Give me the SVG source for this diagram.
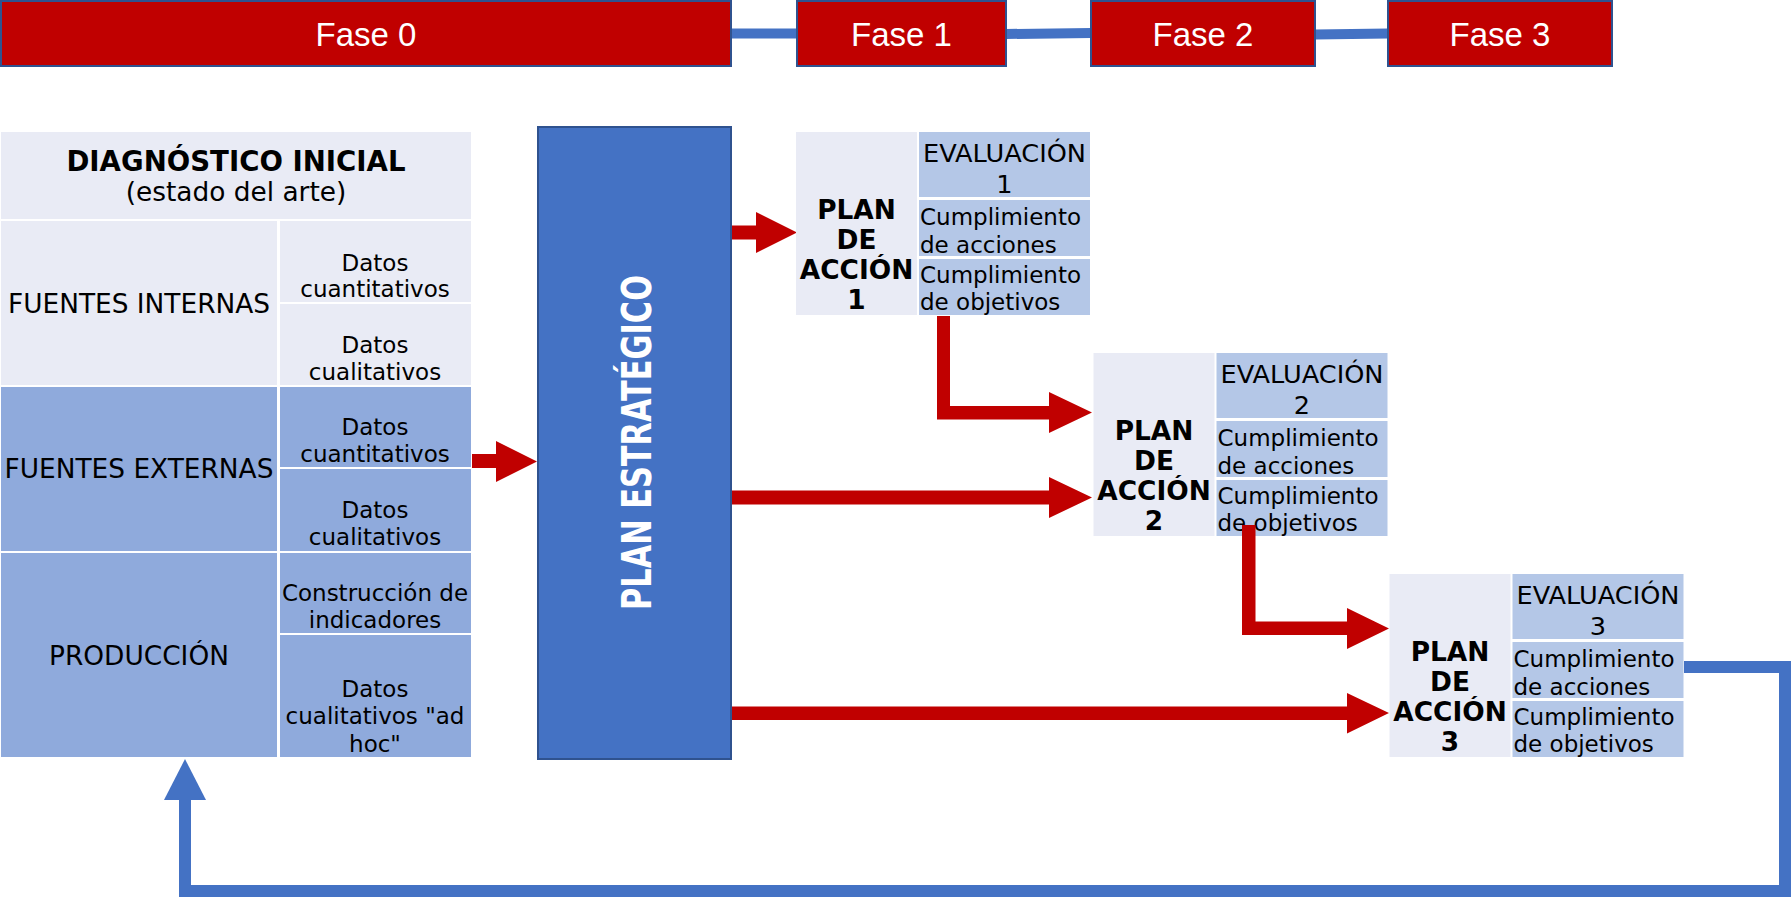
<svg xmlns="http://www.w3.org/2000/svg" width="1792" height="898" viewBox="0 0 1792 898">
<style>
.fase{fill:#C00000;stroke:#2F528F;stroke-width:2}
.ft{font-family:"Liberation Sans",Arial,sans-serif;font-size:33px;fill:#fff;text-anchor:middle}
.l{fill:#E9EBF5}
.m{fill:#8FAADC}
.e{fill:#B4C7E7}
.t{font-family:"DejaVu Sans",Verdana,sans-serif;fill:#000}
.c{text-anchor:middle}
.b{font-weight:bold}
.s26{font-size:26.4px}
.s23{font-size:23px}
.s25{font-size:25.6px}
.red{fill:#C00000}
.bl{fill:none;stroke:#4472C4}
</style>
<rect width="1792" height="898" fill="#fff"/>
<g id="connectors">
  <line class="bl" stroke-width="10" x1="731" y1="33.5" x2="797" y2="33.5"/>
  <line class="bl" stroke-width="10" x1="1006" y1="34" x2="1091" y2="33"/>
  <line class="bl" stroke-width="10" x1="1315" y1="34.5" x2="1388" y2="33.5"/>
  <polygon class="red" points="472,454 496,454 496,441 537,461.5 496,482 496,468 472,468"/>
  <polygon class="red" points="731,225.5 756,225.5 756,212 797,232.5 756,253 756,239.5 731,239.5"/>
  <polygon class="red" points="731,490.5 1049,490.5 1049,477 1092,497.5 1049,518 1049,504.5 731,504.5"/>
  <polygon class="red" points="731,706.5 1347,706.5 1347,693 1389,713 1347,733.5 1347,720 731,720"/>
  <polygon class="red" points="937,316 950,316 950,406 1049,406 1049,392 1092,412.5 1049,433 1049,419.5 937,419.5"/>
  <path class="bl" stroke-width="12" d="M1684,667 H1785 V891 H185 V800"/>
  <polygon fill="#4472C4" points="164,800 206,800 185,759"/>
</g>
<g id="fase0"><rect class="fase" x="1" y="1" width="730" height="65"/><text class="ft" x="366" y="46">Fase 0</text></g>
<g id="fase1"><rect class="fase" x="797" y="1" width="209" height="65"/><text class="ft" x="901.5" y="46">Fase 1</text></g>
<g id="fase2"><rect class="fase" x="1091" y="1" width="224" height="65"/><text class="ft" x="1203" y="46">Fase 2</text></g>
<g id="fase3"><rect class="fase" x="1388" y="1" width="224" height="65"/><text class="ft" x="1500" y="46">Fase 3</text></g>
<g id="diagnostico">
  <rect class="l" x="1" y="132" width="470" height="87"/>
  <text class="t c b" x="236" y="171" font-size="27.6">DIAGNÓSTICO INICIAL</text>
  <text class="t c s26" x="236" y="201">(estado del arte)</text>
</g>
<g id="fuentes-internas">
  <rect class="l" x="1" y="221" width="276" height="164"/>
  <text class="t c s26" x="139" y="313">FUENTES INTERNAS</text>
  <rect class="l" x="280" y="221" width="191" height="81"/>
  <text class="t c s23" x="375" y="271">Datos</text>
  <text class="t c s23" x="375" y="297">cuantitativos</text>
  <rect class="l" x="280" y="304" width="191" height="81"/>
  <text class="t c s23" x="375" y="353">Datos</text>
  <text class="t c s23" x="375" y="380">cualitativos</text>
</g>
<g id="fuentes-externas">
  <rect class="m" x="1" y="387" width="276" height="164"/>
  <text class="t c s26" x="139" y="478">FUENTES EXTERNAS</text>
  <rect class="m" x="280" y="387" width="191" height="80"/>
  <text class="t c s23" x="375" y="435">Datos</text>
  <text class="t c s23" x="375" y="462">cuantitativos</text>
  <rect class="m" x="280" y="469" width="191" height="82"/>
  <text class="t c s23" x="375" y="518">Datos</text>
  <text class="t c s23" x="375" y="545">cualitativos</text>
</g>
<g id="produccion">
  <rect class="m" x="1" y="553" width="276" height="204"/>
  <text class="t c s26" x="139" y="665">PRODUCCIÓN</text>
  <rect class="m" x="280" y="553" width="191" height="80"/>
  <text class="t c s23" x="375" y="601">Construcción de</text>
  <text class="t c s23" x="375" y="628">indicadores</text>
  <rect class="m" x="280" y="635" width="191" height="122"/>
  <text class="t c s23" x="375" y="697">Datos</text>
  <text class="t c s23" x="375" y="724">cualitativos "ad</text>
  <text class="t c s23" x="375" y="752">hoc"</text>
</g>
<g id="plan-estrategico">
  <rect x="538" y="127" width="193" height="632" fill="#4472C4" stroke="#2F528F" stroke-width="2"/>
  <text class="t c b" transform="translate(651,442.5) rotate(-90)" font-size="40" style="fill:#fff" textLength="335" lengthAdjust="spacingAndGlyphs">PLAN ESTRATÉGICO</text>
</g>
<g id="plan-accion-1" transform="translate(796,132)">
  <rect class="l" x="0" y="0" width="121" height="183"/>
  <text class="t c b s26" x="60.5" y="87">PLAN</text>
  <text class="t c b s26" x="60.5" y="117">DE</text>
  <text class="t c b s26" x="60.5" y="147">ACCIÓN</text>
  <text class="t c b s26" x="60.5" y="177">1</text>
  <rect class="e" x="123" y="0" width="171" height="65"/>
  <text class="t c s25" x="208.5" y="30">EVALUACIÓN</text>
  <text class="t c s25" x="208.5" y="61">1</text>
  <rect class="e" x="123" y="68" width="171" height="56"/>
  <text class="t s23" x="124" y="93">Cumplimiento</text>
  <text class="t s23" x="124" y="121">de acciones</text>
  <rect class="e" x="123" y="127" width="171" height="56"/>
  <text class="t s23" x="124" y="151">Cumplimiento</text>
  <text class="t s23" x="124" y="178">de objetivos</text>
</g>
<g id="plan-accion-2" transform="translate(1093.5,353)">
  <rect class="l" x="0" y="0" width="121" height="183"/>
  <text class="t c b s26" x="60.5" y="87">PLAN</text>
  <text class="t c b s26" x="60.5" y="117">DE</text>
  <text class="t c b s26" x="60.5" y="147">ACCIÓN</text>
  <text class="t c b s26" x="60.5" y="177">2</text>
  <rect class="e" x="123" y="0" width="171" height="65"/>
  <text class="t c s25" x="208.5" y="30">EVALUACIÓN</text>
  <text class="t c s25" x="208.5" y="61">2</text>
  <rect class="e" x="123" y="68" width="171" height="56"/>
  <text class="t s23" x="124" y="93">Cumplimiento</text>
  <text class="t s23" x="124" y="121">de acciones</text>
  <rect class="e" x="123" y="127" width="171" height="56"/>
  <text class="t s23" x="124" y="151">Cumplimiento</text>
  <text class="t s23" x="124" y="178">de objetivos</text>
</g>
<g id="plan-accion-3" transform="translate(1389.5,574)">
  <rect class="l" x="0" y="0" width="121" height="183"/>
  <text class="t c b s26" x="60.5" y="87">PLAN</text>
  <text class="t c b s26" x="60.5" y="117">DE</text>
  <text class="t c b s26" x="60.5" y="147">ACCIÓN</text>
  <text class="t c b s26" x="60.5" y="177">3</text>
  <rect class="e" x="123" y="0" width="171" height="65"/>
  <text class="t c s25" x="208.5" y="30">EVALUACIÓN</text>
  <text class="t c s25" x="208.5" y="61">3</text>
  <rect class="e" x="123" y="68" width="171" height="56"/>
  <text class="t s23" x="124" y="93">Cumplimiento</text>
  <text class="t s23" x="124" y="121">de acciones</text>
  <rect class="e" x="123" y="127" width="171" height="56"/>
  <text class="t s23" x="124" y="151">Cumplimiento</text>
  <text class="t s23" x="124" y="178">de objetivos</text>
</g>
<g id="connector-pa2-pa3">
  <polygon class="red" points="1242,525 1255.5,525 1255.5,621.5 1347,621.5 1347,608 1389,628.5 1347,649 1347,635 1242,635"/>
</g>
</svg>
